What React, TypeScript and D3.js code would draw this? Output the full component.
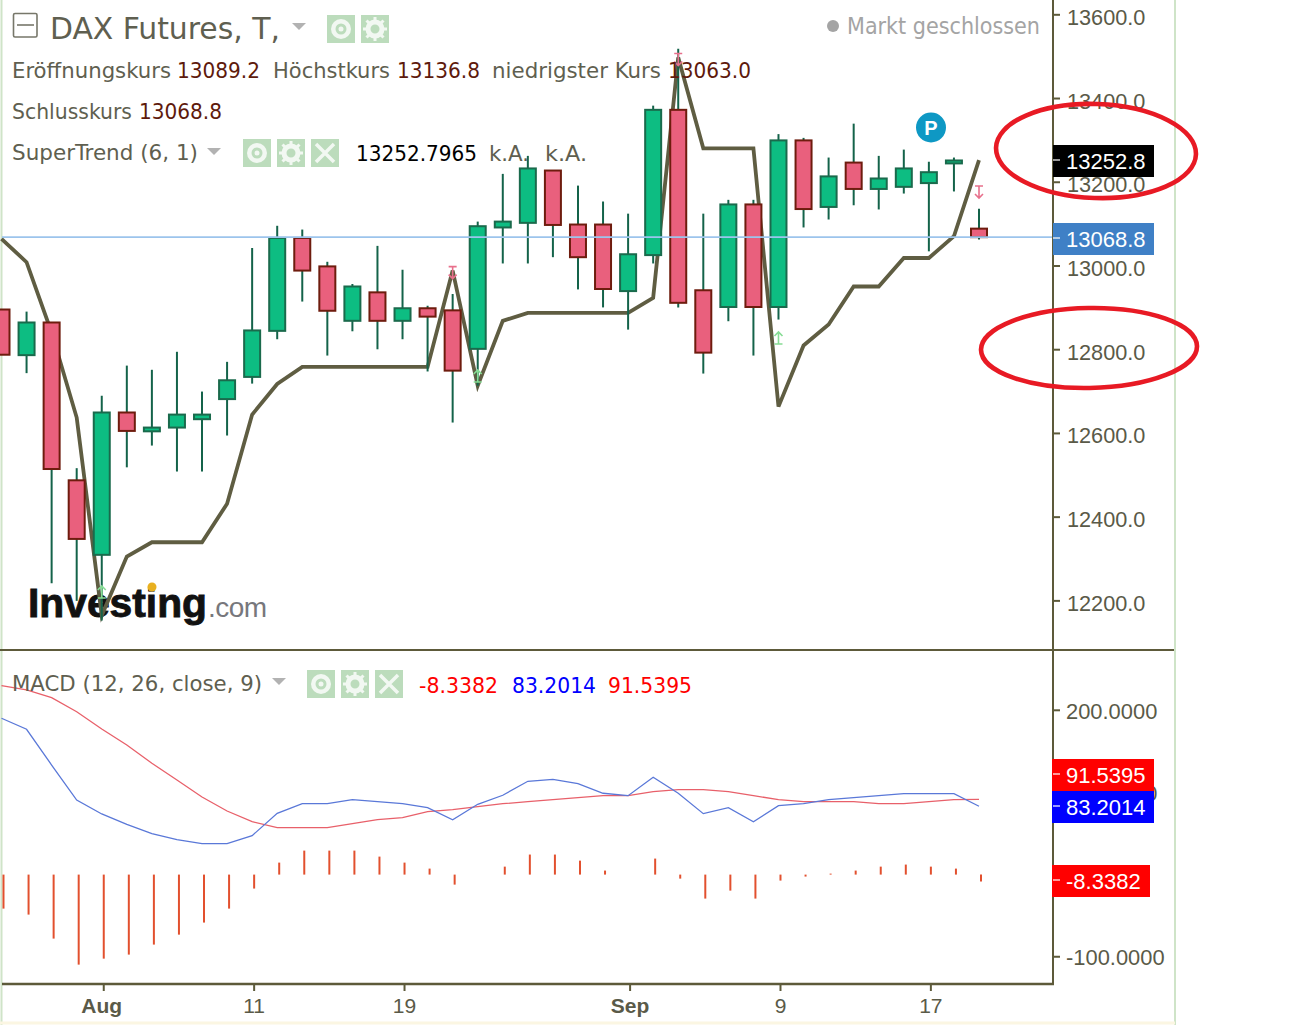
import React from "react";
import * as d3 from "d3";

const opens = [12896,12787,12865,12488,12310,12650,12605,12614,12634,12682,12735,12845,13067,12999,12869,12937,12869,12899,12894,12802,13092,13103,13228,13099,13099,12940,13026,13373,12942,12902,13147,12902,13300,13141,13247,13184,13189,13198,13245,13089.2];
const closes = [12788,12865,12515,12348,12650,12606,12614,12645,12645,12727,12846,13067,12989,12893,12951,12869,12899,12879,12750,13095,13106,13233,13098,13021,12945,13028,13373,12912,12793,13147,12902,13300,13136,13214,13184,13209,13233,13224,13252,13068.8];
const highs = [12896,12891,12865,12517,12690,12762,12752,12795,12700,12771,13043,13096,13087,13010,12957,13048,12991,12905,12933,13106,13220,13263,13228,13192,13154,13125,13383,13519,13125,13158,13158,13315,13306,13259,13340,13263,13278,13249,13259,13136.8];
const lows = [12788,12744,12242,12200,12153,12519,12571,12509,12509,12595,12719,12825,12915,12786,12844,12801,12825,12748,12626,12714,13006,13006,13021,12944,12901,12848,13006,12901,12743,12868,12786,12872,13092,13111,13145,13135,13173,13035,13178,13063];
const superTrend = [13065,13009,12841,12638,12165,12306,12340,12340,12340,12432,12645,12718,12759,12759,12759,12759,12759,12759,12989,12714,12869,12888,12888,12888,12888,12888,12924,13498,13281,13281,13281,12664,12810,12860,12951,12951,13019,13019,13071,13252.8];
const macd = [190.3,176.9,133.4,90.8,73.8,61.2,49.8,42.5,37.6,37.6,47.4,74.6,86.3,86.3,91.2,88.8,86.3,81.5,66.8,85.6,96.6,113.6,116,110.7,99,96.1,118.5,99,74.2,81.5,64.4,83.9,86.3,91.2,93.6,96.1,98.5,98.5,98.5,83.2014];
const signal = [230,224.8,215.4,198.3,177.3,157.8,135.5,115.2,94.5,77.4,64.4,57.1,57.1,57.1,62,66.8,69.3,76.6,79,82.7,86.3,88.8,91.2,93.6,96.1,96.1,100.9,103.4,103.4,100.9,96.1,91.2,88.8,88.8,88.8,86.3,86.3,88.8,91.2,91.5395];
const hist = [-41.4,-48.7,-77.9,-109.6,-102.3,-97.4,-85.2,-73.1,-58.4,-41.4,-17,14.6,29.2,29.2,29.2,21.9,14.6,7.3,-12.2,0,9.7,24.4,24.4,17,4.9,0,19.5,-4.9,-29.2,-19.5,-29.2,-7.3,-2.4,1.2,4.9,9.7,12.2,9.7,7.3,-8.3382];
const priceTicks = [13600,13400,13200,13000,12800,12600,12400,12200];
const macdTicks = [200,100,-100];
const dateTicks = [{ i: 4, label: "Aug", bold: true, dx: 0 }, { i: 10, label: "11", dx: 2 }, { i: 16, label: "19", dx: 2 }, { i: 25, label: "Sep", bold: true, dx: 2 }, { i: 31, label: "9", dx: 2 }, { i: 37, label: "17", dx: 2 }];
const downMarks = [18, 27, 39];
const upMarks = [4, 19, 31];

const x = d3.scaleLinear().domain([0, 39]).range([1.5, 979]);
const y = d3.scaleLinear().domain([12800, 13600]).range([349.7, 14.8]);
const m = d3.scaleLinear().domain([0, 200]).range([874.6, 710.3]);

const UI = "'DejaVu Sans', sans-serif";
const AX = "'Liberation Sans', sans-serif";
const AXC = "#5a5a48";
const FRAME = "#5d5a3a";
const LABEL = "#5f5f50";
const VALUE = "#5e1a0c";

const stLine = d3.line<number>().x((_, i) => x(i)).y(d => y(d))(superTrend) || "";
const macdLine = d3.line<number>().x((_, i) => x(i)).y(d => m(d))(macd) || "";
const sigLine = d3.line<number>().x((_, i) => x(i)).y(d => m(d))(signal) || "";

function Txt(p: any) {
  const { x: tx, y: ty, size = 21, fill = LABEL, w, children } = p;
  return <text x={tx} y={ty} fontSize={size} fill={fill} fontFamily={UI} textLength={w} lengthAdjust="spacingAndGlyphs" style={{ fontStretch: "condensed" }}>{children}</text>;
}

function Btn({ x: bx, y: by, kind }: { x: number; y: number; kind: string }) {
  const cx = bx + 14, cy = by + 14;
  return (
    <g>
      <rect x={bx} y={by} width={28} height={28} fill="#bcdcbc" />
      {kind === "eye" && <><circle cx={cx} cy={cy} r={10} fill="#f2f8f2" /><circle cx={cx} cy={cy} r={5.5} fill="#bcdcbc" /><circle cx={cx} cy={cy} r={2.5} fill="#f2f8f2" /></>}
      {kind === "gear" && <><circle cx={cx} cy={cy} r={7} fill="none" stroke="#f2f8f2" strokeWidth={5} />
        {d3.range(8).map(k => <line key={k} x1={cx} y1={cy - 8} x2={cx} y2={cy - 12} stroke="#f2f8f2" strokeWidth={3} transform={`rotate(${k * 45} ${cx} ${cy})`} />)}</>}
      {kind === "x" && <path d={`M${bx + 5} ${by + 5}L${bx + 23} ${by + 23}M${bx + 23} ${by + 5}L${bx + 5} ${by + 23}`} stroke="#f2f8f2" strokeWidth={3.5} />}
    </g>
  );
}

function Tri({ x: tx, y: ty }: { x: number; y: number }) {
  return <path d={`M${tx} ${ty}h14l-7 7z`} fill="#b2b2b2" />;
}

function Box({ x0, x1, yc, fill, text }: { x0: number; x1: number; yc: number; fill: string; text: string }) {
  return (
    <g>
      <rect x={x0} y={yc - 16} width={x1 - x0} height={32} fill={fill} />
      <line x1={1053} x2={1060} y1={yc - 1} y2={yc - 1} stroke="#ffffff" strokeOpacity={0.6} strokeWidth={2} />
      <text x={1066} y={yc + 8} fontSize={22} fill="#fff" fontFamily={AX}>{text}</text>
    </g>
  );
}

export default function App() {
  return (
    <svg width={1301} height={1025} viewBox="0 0 1301 1025" style={{ position: "absolute", left: 0, top: 0, display: "block", background: "#fff" }}>
      <line x1={1.5} x2={1.5} y1={0} y2={1025} stroke="#cfe4c8" strokeWidth={2} />
      <line x1={1175} x2={1175} y1={0} y2={1025} stroke="#cfe4c8" strokeWidth={2} />
      <line x1={0} x2={1175} y1={1023} y2={1023} stroke="#fbf6e2" strokeWidth={3} />

      {/* logo under the series */}
      <text x={28} y={617} fontSize={41} fontWeight={700} fill="#111" fontFamily={AX} textLength={179} lengthAdjust="spacingAndGlyphs" stroke="#111" strokeWidth={0.9}>Investing</text>
      <text x={208} y={617} fontSize={28} fill="#77777c" fontFamily={AX} letterSpacing={-0.5}>.com</text>
      <circle cx={152} cy={587} r={4.5} fill="#e8b020" />

      {/* SuperTrend */}
      <path d={stLine} fill="none" stroke="#5f5d42" strokeWidth={3.8} strokeLinejoin="miter" />

      {/* candles */}
      {opens.map((o, i) => {
        const c = closes[i];
        const up = c >= o;
        const top = y(Math.max(o, c));
        const bottom = y(Math.min(o, c));
        return (
          <g key={i}>
            <line x1={x(i)} x2={x(i)} y1={y(highs[i])} y2={y(lows[i])} stroke="#14634a" strokeWidth={2} />
            <rect x={x(i) - 8} y={top} width={16} height={Math.max(bottom - top, 1)} fill={up ? "#0dbd82" : "#e9607d"} stroke={up ? "#1a6a4c" : "#6e1c0e"} strokeWidth={2} />
          </g>
        );
      })}

      {/* signal markers */}
      {downMarks.map(i => {
        const yy = i === 39 ? 186 : y(superTrend[i]) - 4;
        return <path key={i} d={`M${x(i) - 4} ${yy}h8M${x(i)} ${yy}v12M${x(i) - 4} ${yy + 8}l4 4l4 -4`} fill="none" stroke="#e8708c" strokeWidth={1.6} />;
      })}
      {upMarks.map(i => {
        const yy = i === 4 ? 586 : i === 19 ? 370 : 332;
        return <path key={i} d={`M${x(i) - 4} ${yy + 12}h8M${x(i)} ${yy + 12}v-12M${x(i) - 4} ${yy + 4}l4 -4l4 4`} fill="none" stroke="#86dc94" strokeWidth={1.6} />;
      })}

      {/* last price line */}
      <line x1={2} x2={1053} y1={y(13068.8)} y2={y(13068.8)} stroke="#9cc4ec" strokeWidth={1.6} />

      {/* P marker */}
      <circle cx={931} cy={127.5} r={15} fill="#0e98c4" />
      <text x={931} y={135} textAnchor="middle" fontSize={20} fontWeight={700} fill="#fff" fontFamily={AX}>P</text>

      {/* MACD */}
      {hist.map((h, i) => h === 0 ? null : (
        <line key={i} x1={x(i) + 2} x2={x(i) + 2} y1={m(0)} y2={m(h)} stroke="#e2502e" strokeWidth={2} />
      ))}
      <path d={sigLine} fill="none" stroke="#e8606a" strokeWidth={1.3} />
      <path d={macdLine} fill="none" stroke="#5a78d8" strokeWidth={1.3} />

      {/* frames */}
      <line x1={0} x2={1174} y1={650} y2={650} stroke={FRAME} strokeWidth={2} />
      <line x1={2} x2={1054} y1={984} y2={984} stroke={FRAME} strokeWidth={2.4} />
      <line x1={1053} x2={1053} y1={0} y2={985} stroke={FRAME} strokeWidth={2} />

      {/* price axis */}
      {priceTicks.map(t => (
        <g key={t}>
          <line x1={1053} x2={1060} y1={y(t)} y2={y(t)} stroke={FRAME} strokeWidth={2} />
          <text x={1067} y={y(t) + 10} fontSize={21.7} fill={AXC} fontFamily={AX}>{t.toFixed(1)}</text>
        </g>
      ))}
      {macdTicks.map(t => (
        <g key={t}>
          <line x1={1053} x2={1060} y1={m(t)} y2={m(t) } stroke={FRAME} strokeWidth={2} />
          <text x={1066} y={m(t) + 8.5} fontSize={21.9} fill={AXC} fontFamily={AX}>{t.toFixed(4)}</text>
        </g>
      ))}

      {/* date axis */}
      {dateTicks.map(d => (
        <g key={d.label}>
          <line x1={x(d.i) + 2} x2={x(d.i) + 2} y1={984} y2={991} stroke={FRAME} strokeWidth={2} />
          <text x={x(d.i) + d.dx} y={1013} textAnchor="middle" fontSize={21} fontWeight={d.bold ? 700 : 400} fill={AXC} fontFamily={AX}>{d.label}</text>
        </g>
      ))}

      {/* value tags */}
      <Box x0={1053} x1={1154} yc={161} fill="#000" text="13252.8" />
      <Box x0={1053} x1={1154} yc={239} fill="#3f80c6" text="13068.8" />
      <Box x0={1052} x1={1154} yc={775} fill="#ff0000" text="91.5395" />
      <Box x0={1052} x1={1154} yc={807} fill="#0000ff" text="83.2014" />
      <Box x0={1052} x1={1150} yc={881} fill="#ff0000" text="-8.3382" />

      {/* legend */}
      <rect x={13.5} y={13.5} width={23.5} height={23.5} rx={1.5} fill="none" stroke="#77776a" strokeWidth={1.6} />
      <line x1={17} x2={34} y1={25} y2={25} stroke="#77776a" strokeWidth={1.6} />
      <Txt x={50} y={39} size={31} w={230}>DAX Futures, T,</Txt>
      <Tri x={292} y={23} />
      <Btn x={327} y={15} kind="eye" />
      <Btn x={361} y={15} kind="gear" />

      <circle cx={833} cy={26} r={6} fill="#a4a4a4" />
      <Txt x={847} y={34} size={23} fill="#a4a4a4" w={193}>Markt geschlossen</Txt>

      <Txt x={12} y={78} w={159}>Eröffnungskurs</Txt>
      <Txt x={177} y={78} fill={VALUE} w={83}>13089.2</Txt>
      <Txt x={273} y={78} w={117}>Höchstkurs</Txt>
      <Txt x={397} y={78} fill={VALUE} w={83}>13136.8</Txt>
      <Txt x={492} y={78} w={169}>niedrigster Kurs</Txt>
      <Txt x={668} y={78} fill={VALUE} w={83}>13063.0</Txt>
      <Txt x={12} y={119} w={120}>Schlusskurs</Txt>
      <Txt x={139} y={119} fill={VALUE} w={83}>13068.8</Txt>

      <Txt x={12} y={160} w={186}>SuperTrend (6, 1)</Txt>
      <Tri x={207} y={148} />
      <Btn x={243} y={139} kind="eye" />
      <Btn x={277} y={139} kind="gear" />
      <Btn x={311} y={139} kind="x" />
      <Txt x={356} y={161} fill="#000" w={121}>13252.7965</Txt>
      <Txt x={489} y={161} w={40}>k.A.</Txt>
      <Txt x={545} y={161} w={42}>k.A.</Txt>

      <Txt x={12} y={691} w={250}>MACD (12, 26, close, 9)</Txt>
      <Tri x={272} y={678} />
      <Btn x={307} y={670} kind="eye" />
      <Btn x={341} y={670} kind="gear" />
      <Btn x={375} y={670} kind="x" />
      <Txt x={419} y={693} fill="#ff0000" w={79}>-8.3382</Txt>
      <Txt x={512} y={693} fill="#0000ff" w={84}>83.2014</Txt>
      <Txt x={608} y={693} fill="#ff0000" w={84}>91.5395</Txt>

      {/* hand-drawn annotations */}
      <ellipse cx={1096} cy={151} rx={100} ry={47} fill="none" stroke="#e81a24" strokeWidth={4.6} transform="rotate(2 1096 151)" />
      <ellipse cx={1089} cy={348} rx={108} ry={40} fill="none" stroke="#e81a24" strokeWidth={4.6} transform="rotate(-1 1089 348)" />
    </svg>
  );
}
